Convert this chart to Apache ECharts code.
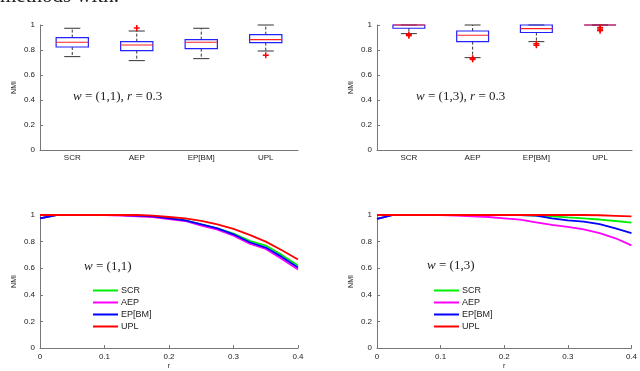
<!DOCTYPE html>
<html>
<head>
<meta charset="utf-8">
<script src="https://cdn.jsdelivr.net/npm/echarts@6/dist/echarts.min.js"></script>
<style>
  html, body { margin: 0; padding: 0; background: #fff; }
  #main { width: 640px; height: 371px; }
</style>
</head>
<body>
<div id="main"></div>
<script>
// box data: [min, q1, median, q3, max]
var methods = ['SCR', 'AEP', 'EP[BM]', 'UPL'];
var box11 = [
  [0.747, 0.824, 0.862, 0.899, 0.974],
  [0.715, 0.795, 0.840, 0.867, 0.952],
  [0.731, 0.811, 0.862, 0.883, 0.974],
  [0.792, 0.859, 0.883, 0.923, 1.000]
];
var out11 = [[1, 0.976], [3, 0.758]];
var box13 = [
  [0.931, 0.974, 1.000, 1.000, 1.000],
  [0.739, 0.867, 0.918, 0.952, 1.000],
  [0.867, 0.940, 0.971, 1.000, 1.000],
  [1.000, 1.000, 1.000, 1.000, 1.000]
];
var out13 = [[0, 0.925], [0, 0.915], [1, 0.735], [1, 0.725], [2, 0.850], [2, 0.838], [3, 0.980], [3, 0.967], [3, 0.955]];

// NMI vs r
var rVals = [0, 0.025, 0.05, 0.075, 0.1, 0.125, 0.15, 0.175, 0.2, 0.225, 0.25, 0.275, 0.3, 0.325, 0.35, 0.375, 0.4];
var scr11 = [0.975, 1, 1, 1, 1, 1, 0.995, 0.99, 0.975, 0.96, 0.93, 0.9, 0.86, 0.805, 0.77, 0.7, 0.62];
var aep11 = [0.975, 1, 1, 1, 1, 0.995, 0.99, 0.985, 0.97, 0.955, 0.92, 0.89, 0.845, 0.785, 0.745, 0.67, 0.59];
var ep11 = [0.975, 1, 1, 1, 1, 1, 0.995, 0.99, 0.975, 0.96, 0.93, 0.9, 0.855, 0.795, 0.755, 0.685, 0.605];
var upl11 = [1, 1, 1, 1, 1, 1, 1, 0.995, 0.985, 0.975, 0.955, 0.93, 0.895, 0.85, 0.8, 0.735, 0.665];
var scr13 = [0.97, 1, 1, 1, 1, 1, 1, 1, 1, 1, 0.995, 0.99, 0.982, 0.975, 0.966, 0.955, 0.942];
var aep13 = [0.97, 1, 1, 1, 1, 0.995, 0.99, 0.985, 0.975, 0.965, 0.945, 0.925, 0.91, 0.892, 0.864, 0.825, 0.772];
var ep13 = [0.97, 1, 1, 1, 1, 1, 1, 1, 1, 1, 0.995, 0.975, 0.96, 0.95, 0.932, 0.9, 0.864];
var upl13 = [1, 1, 1, 1, 1, 1, 1, 1, 1, 1, 1, 1, 1, 1, 0.998, 0.994, 0.99];

var colors = { SCR: '#00ee00', AEP: '#ff00ff', 'EP[BM]': '#0000ff', UPL: '#ff0000' };
var font = 'Liberation Sans';
var axisGray = '#777';

function pairs(ys) {
  return rVals.map(function (r, i) { return [r, ys[i]]; });
}

function renderBox(params, api) {
  var c = api.value(0);
  var lo = api.coord([c, api.value(1)]);
  var q1 = api.coord([c, api.value(2)]);
  var med = api.coord([c, api.value(3)]);
  var q3 = api.coord([c, api.value(4)]);
  var hi = api.coord([c, api.value(5)]);
  var bw = api.size([1, 0])[0];
  var half = bw * 0.25, cap = bw * 0.125;
  var x = lo[0];
  var dash = { stroke: '#333', lineWidth: 1, lineDash: [3, 2] };
  var solid = { stroke: '#333', lineWidth: 1 };
  return {
    type: 'group',
    children: [
      { type: 'line', shape: { x1: x, y1: q3[1], x2: x, y2: hi[1] }, style: dash },
      { type: 'line', shape: { x1: x, y1: q1[1], x2: x, y2: lo[1] }, style: dash },
      { type: 'line', shape: { x1: x - cap, y1: hi[1], x2: x + cap, y2: hi[1] }, style: solid },
      { type: 'line', shape: { x1: x - cap, y1: lo[1], x2: x + cap, y2: lo[1] }, style: solid },
      { type: 'rect', shape: { x: x - half, y: q3[1], width: half * 2, height: q1[1] - q3[1] },
        style: { fill: 'none', stroke: '#2222ff', lineWidth: 1.2 } },
      { type: 'line', shape: { x1: x - half, y1: med[1], x2: x + half, y2: med[1] },
        style: { stroke: '#ff2020', lineWidth: 1.2 } }
    ]
  };
}

function renderPlus(params, api) {
  var p = api.coord([api.value(0), api.value(1)]);
  var s = 3;
  var st = { stroke: '#ff0000', lineWidth: 1.5 };
  return {
    type: 'group',
    children: [
      { type: 'line', shape: { x1: p[0] - s, y1: p[1], x2: p[0] + s, y2: p[1] }, style: st },
      { type: 'line', shape: { x1: p[0], y1: p[1] - s, x2: p[0], y2: p[1] + s }, style: st }
    ]
  };
}

function yAxis(idx) {
  return {
    gridIndex: idx, type: 'value', min: 0, max: 1, interval: 0.2,
    name: 'NMI', nameLocation: 'middle', nameRotate: 90, nameGap: 22,
    nameTextStyle: { fontFamily: font, fontSize: 7, color: '#222' },
    axisLine: { show: true, lineStyle: { color: axisGray } },
    axisTick: { show: true, inside: true, length: 3, lineStyle: { color: axisGray } },
    axisLabel: { fontFamily: font, fontSize: 8, color: '#222', margin: 5 },
    splitLine: { show: false }
  };
}

function catAxis(idx) {
  return {
    gridIndex: idx, type: 'category', data: methods,
    axisLine: { show: true, lineStyle: { color: axisGray } },
    axisTick: { show: false },
    axisLabel: { fontFamily: font, fontSize: 8, color: '#222', margin: 4 },
    splitLine: { show: false }
  };
}

function rAxis(idx) {
  return {
    gridIndex: idx, type: 'value', min: 0, max: 0.4, interval: 0.1,
    name: 'r', nameLocation: 'middle', nameGap: 15,
    nameTextStyle: { fontFamily: font, fontSize: 7, color: '#222' },
    axisLine: { show: true, onZero: false, lineStyle: { color: axisGray } },
    axisTick: { show: true, inside: true, length: 3, lineStyle: { color: axisGray } },
    axisLabel: { fontFamily: font, fontSize: 8, color: '#222', margin: 5 },
    splitLine: { show: false }
  };
}

function line(name, idx, ys) {
  return {
    name: name, type: 'line', xAxisIndex: idx, yAxisIndex: idx,
    data: pairs(ys), showSymbol: false, symbol: 'none',
    lineStyle: { color: colors[name], width: 1.8 },
    itemStyle: { color: colors[name] }
  };
}

function legend(left) {
  return {
    data: methods, orient: 'vertical', left: left, top: 281,
    icon: 'rect', itemWidth: 25, itemHeight: 2, itemGap: 3,
    textStyle: { fontFamily: font, fontSize: 9, color: '#222', padding: [0, 0, 0, -2] },
    selectedMode: false
  };
}

function mathText(x, y, parts) {
  return {
    type: 'text', left: x, top: y,
    style: {
      text: parts,
      rich: {
        i: { fontFamily: 'Liberation Serif', fontStyle: 'italic', fontSize: 13, fill: '#222' },
        n: { fontFamily: 'Liberation Serif', fontSize: 13, fill: '#222' }
      }
    }
  };
}

var chart = echarts.init(document.getElementById('main'), null, { renderer: 'canvas' });
chart.setOption({
  animation: false,
  backgroundColor: '#fff',
  grid: [
    { left: 40, right: 342, top: 25, bottom: 221 },
    { left: 377, right: 8, top: 25, bottom: 221 },
    { left: 40, right: 342, top: 215, bottom: 19 },
    { left: 377, right: 5, top: 215, bottom: 19 }
  ],
  xAxis: [catAxis(0), catAxis(1), rAxis(2), rAxis(3)],
  yAxis: [yAxis(0), yAxis(1), yAxis(2), yAxis(3)],
  legend: [legend(88), legend(429)],
  graphic: [
    { type: 'text', left: 0, top: -14,
      style: { text: 'methods with.', fontFamily: 'Liberation Serif', fontSize: 21, fill: '#222' } },
    mathText(73, 90, '{i|w} {n|= (1,1),} {i|r} {n|= 0.3}'),
    mathText(416, 90, '{i|w} {n|= (1,3),} {i|r} {n|= 0.3}'),
    mathText(84, 260, '{i|w} {n|= (1,1)}'),
    mathText(427, 259, '{i|w} {n|= (1,3)}')
  ],
  series: [
    { type: 'custom', xAxisIndex: 0, yAxisIndex: 0, renderItem: renderBox,
      encode: { x: 0, y: [1, 2, 3, 4, 5] },
      data: box11.map(function (b, i) { return [i].concat(b); }) },
    { type: 'custom', xAxisIndex: 0, yAxisIndex: 0, renderItem: renderPlus,
      encode: { x: 0, y: 1 }, data: out11 },
    { type: 'custom', xAxisIndex: 1, yAxisIndex: 1, renderItem: renderBox,
      encode: { x: 0, y: [1, 2, 3, 4, 5] },
      data: box13.map(function (b, i) { return [i].concat(b); }) },
    { type: 'custom', xAxisIndex: 1, yAxisIndex: 1, renderItem: renderPlus,
      encode: { x: 0, y: 1 }, data: out13 },
    line('SCR', 2, scr11),
    line('AEP', 2, aep11),
    line('EP[BM]', 2, ep11),
    line('UPL', 2, upl11),
    line('SCR', 3, scr13),
    line('AEP', 3, aep13),
    line('EP[BM]', 3, ep13),
    line('UPL', 3, upl13)
  ]
});
</script>
</body>
</html>
